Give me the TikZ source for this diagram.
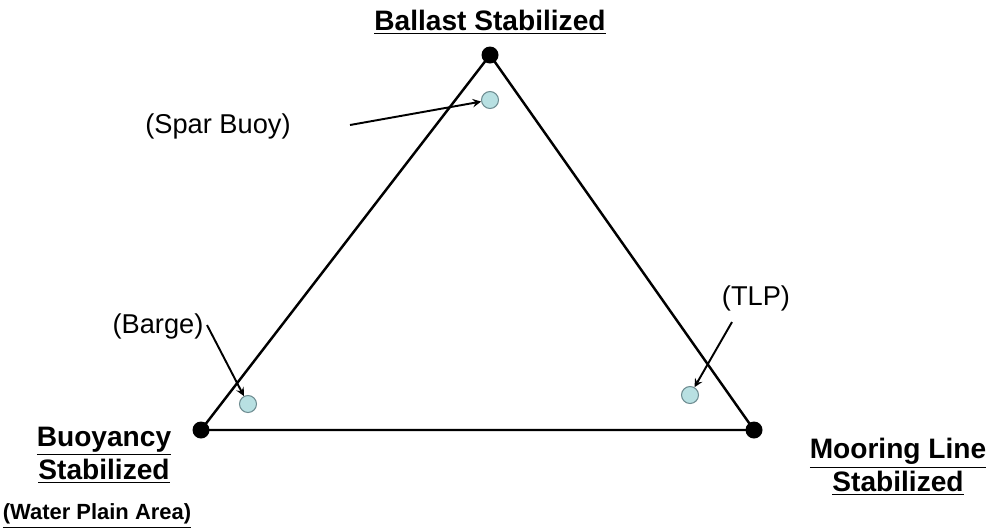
\documentclass[tikz,border=0pt]{standalone}
\usepackage{fontspec}
\setmainfont{Liberation Sans}
\definecolor{hullfill}{RGB}{184,224,226}
\definecolor{hulledge}{RGB}{110,140,145}
\begin{document}
\begin{tikzpicture}[
    x=0.02cm, y=-0.02cm,
    >=stealth,
    corner/.style={circle, fill=black, inner sep=0pt, minimum size=0.34cm},
    hull/.style={circle, draw=hulledge, line width=0.6pt, fill=hullfill, inner sep=0pt, minimum size=0.34cm},
    title/.style={font=\bfseries\fontsize{16}{19}\selectfont, align=center},
    lbl/.style={font=\fontsize{15.5}{18}\selectfont},
    side/.style={line width=1.4pt},
    arr/.style={->, line width=1.1pt}
]
    \useasboundingbox (0,0) rectangle (993,529);

    \node[corner] (ballast) at (490,55) {};
    \node[corner] (buoyancy) at (201,430) {};
    \node[corner] (mooring) at (754,430) {};

    \draw[side] (ballast.center) -- (buoyancy.center) -- (mooring.center) -- cycle;

    \node[hull] (spar) at (490,100) {};
    \node[hull] (barge) at (248,404) {};
    \node[hull] (tlp) at (690,395) {};

    \node[title] (ballastlbl) at (490,22) {\underline{Ballast Stabilized}};
    \node[title] (buoyancylbl) at (104,455) {\underline{Buoyancy}\\\underline{Stabilized}};
    \node[font=\bfseries\fontsize{12.5}{14}\selectfont] (waterlbl) at (97,516) {\underline{(Water Plain Area)}};
    \node[title] (mooringlbl) at (898,467) {\underline{Mooring Line}\\\underline{Stabilized}};

    \node[lbl] (sparlbl) at (218,126) {(Spar Buoy)};
    \node[lbl] (bargelbl) at (158,326) {(Barge)};
    \node[lbl] (tlplbl) at (756,298) {(TLP)};

    \coordinate (sparfrom) at (350,125);
    \coordinate (bargefrom) at (207,325);
    \coordinate (tlpfrom) at (732,322);
    \draw[arr] (sparfrom) -- (spar);
    \draw[arr] (bargefrom) -- (barge);
    \draw[arr] (tlpfrom) -- (tlp);
\end{tikzpicture}
\end{document}
